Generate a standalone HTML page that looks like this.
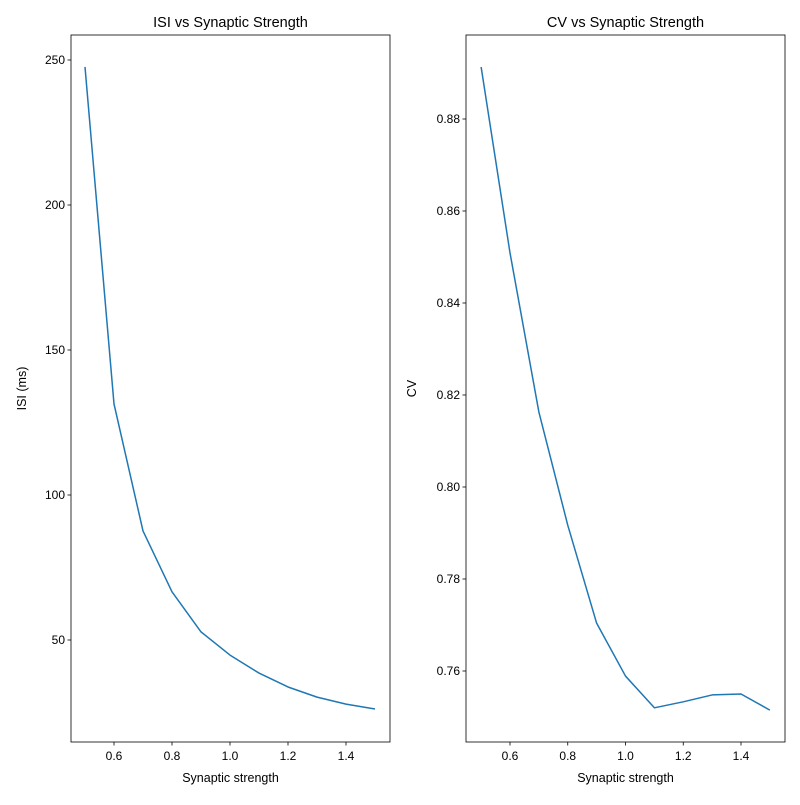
<!DOCTYPE html>
<html><head><meta charset="utf-8"><style>
body{margin:0;background:#fff;}
svg text{font-family:"Liberation Sans","DejaVu Sans",sans-serif;fill:#000;}
</style></head><body>
<svg id="chart" width="800" height="800" xmlns="http://www.w3.org/2000/svg"></svg>
<script>
const xVals = [0.5,0.6,0.7,0.8,0.9,1.0,1.1,1.2,1.3,1.4,1.5];
const isiVals = [247.6,131.4,87.6,66.6,52.8,44.8,38.6,33.8,30.3,27.9,26.2];
const cvVals = [0.8913,0.8509,0.8163,0.7917,0.7704,0.7589,0.7520,0.7533,0.7548,0.7550,0.7515];
const xTicks = [0.6,0.8,1.0,1.2,1.4];
const isiTicks = [50,100,150,200,250];
const cvTicks = [0.76,0.78,0.80,0.82,0.84,0.86,0.88];

const svg = document.getElementById('chart');
const NS = 'http://www.w3.org/2000/svg';
function mk(tag, attrs, parent){const e=document.createElementNS(NS,tag);for(const k in attrs)e.setAttribute(k,attrs[k]);(parent||svg).appendChild(e);return e;}

function panel(name, L, R, T, B, xmin, xmax, ymin, ymax, ys, yticks, fmt, title, ylabel, ylabelX){
  const g = mk('g',{});
  
  
  const sx = v => L + (v - xmin) / (xmax - xmin) * (R - L);
  const sy = v => B - (v - ymin) / (ymax - ymin) * (B - T);
  const pts = xVals.map((x,i)=>sx(x).toFixed(2)+','+sy(ys[i]).toFixed(2)).join(' ');
  const line = mk('polyline',{points:pts,fill:'none',stroke:'#1f77b4','stroke-width':1.5,'stroke-linejoin':'round'},g);
  
  
  const frame = mk('rect',{x:L,y:T,width:R-L,height:B-T,fill:'none',stroke:'#000','stroke-width':0.8},g);
  
  
  xTicks.forEach(t=>{
    const x=sx(t);
    mk('line',{x1:x,x2:x,y1:B,y2:B+3.5,stroke:'#000','stroke-width':0.8},g);
    const tx=mk('text',{x:x,y:B+18,'font-size':12,'text-anchor':'middle'},g);
    tx.textContent=t.toFixed(1);
    
    
  });
  yticks.forEach(t=>{
    const y=sy(t);
    mk('line',{x1:L-3.5,x2:L,y1:y,y2:y,stroke:'#000','stroke-width':0.8},g);
    const tx=mk('text',{x:L-6,y:y+4,'font-size':12,'text-anchor':'end'},g);
    tx.textContent=fmt(t);
    
    
  });
  const tt=mk('text',{x:(L+R)/2,y:T-8,'font-size':14.5,'text-anchor':'middle'},g);
  tt.textContent=title;
  
  
  const xl=mk('text',{x:(L+R)/2,y:B+40,'font-size':12.5,'text-anchor':'middle'},g);
  xl.textContent='Synaptic strength';
  
  
  const yl=mk('text',{x:ylabelX,y:(T+B)/2,'font-size':12.5,'text-anchor':'middle',transform:'rotate(-90 '+ylabelX+' '+(T+B)/2+')'},g);
  yl.textContent=ylabel;
  
  
}
// left: 0.6->114, 1.4->346 ; 250->60, 50->640
{
  const L=71,R=390,T=35,B=742;
  const ppu=290, x0=114-0.6*ppu; // pixel of 0
  const xmin=(L-x0)/ppu, xmax=(R-x0)/ppu;
  const pyu=2.9, y0=640+50*pyu;
  const ymax=(y0-T)/pyu, ymin=(y0-B)/pyu;
  panel('isi-panel',L,R,T,B,xmin,xmax,ymin,ymax,isiVals,isiTicks,t=>String(t),'ISI vs Synaptic Strength','ISI (ms)',26);
}
// right: 0.6->510, 1.4->741 ; 0.88->119, 0.76->671
{
  const L=466,R=785,T=35,B=742;
  const ppu=(741-510)/0.8, x0=510-0.6*ppu;
  const xmin=(L-x0)/ppu, xmax=(R-x0)/ppu;
  const pyu=(671-119)/0.12, y0=671+0.76*pyu;
  const ymax=(y0-T)/pyu, ymin=(y0-B)/pyu;
  panel('cv-panel',L,R,T,B,xmin,xmax,ymin,ymax,cvVals,cvTicks,t=>t.toFixed(2),'CV vs Synaptic Strength','CV',416);
}
</script>
</body></html>
